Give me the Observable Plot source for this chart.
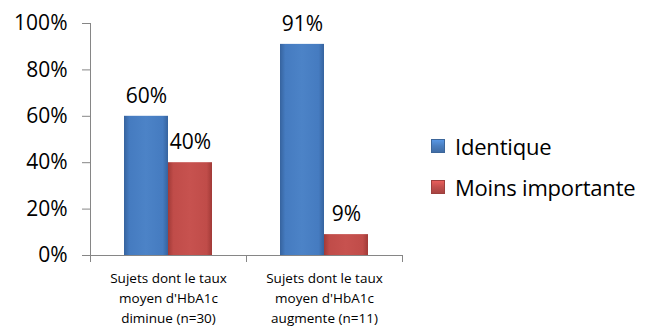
<!DOCTYPE html>
<html>
<head>
<meta charset="utf-8">
<script src="https://cdn.jsdelivr.net/npm/d3@7"></script>
<script src="https://cdn.jsdelivr.net/npm/@observablehq/plot@0.6"></script>
<style>
  html, body { margin: 0; padding: 0; background: #fff; }
  #wrap { position: relative; width: 645px; height: 329px; font-family: "Open Sans", sans-serif; }
  .leg { position: absolute; left: 431px; height: 30px; display: flex; align-items: center; font-size: 22px; color: #000; white-space: nowrap; letter-spacing: -0.2px; }
  .sw { width: 14px; height: 14px; margin-right: 10px; box-sizing: border-box; }
</style>
</head>
<body>
<div id="wrap"></div>
<script>
const categories = [
  "Sujets dont le taux\nmoyen d'HbA1c\ndiminue (n=30)",
  "Sujets dont le taux\nmoyen d'HbA1c\naugmente (n=11)"
];
const series = ["Identique", "Moins importante"];
const identique = [0.60, 0.91];
const moinsImportante = [0.40, 0.09];
const yTicks = [0, 0.2, 0.4, 0.6, 0.8, 1.0];
const seriesColors = ["#4a7ebf", "#c24f4c"];

const data = [];
categories.forEach((c, i) => {
  data.push({category: c, series: series[0], value: identique[i]});
  data.push({category: c, series: series[1], value: moinsImportante[i]});
});

const pct = d3.format(".0%");
const axisGray = "#868686";

const chart = Plot.plot({
  width: 645,
  height: 329,
  marginLeft: 90,
  marginRight: 243,
  marginTop: 23,
  marginBottom: 74,
  style: {fontFamily: "Open Sans", color: "#000", background: "transparent", overflow: "visible"},
  fx: {domain: categories, axis: null, label: null, paddingInner: 0, paddingOuter: 0},
  x: {domain: series, axis: null, label: null, paddingInner: 0, paddingOuter: 0.76},
  y: {domain: [0, 1], axis: null, label: null},
  color: {domain: series, range: ["url(#gBlue)", "url(#gRed)"]},
  marks: [
    Plot.axisY({ticks: yTicks, tickFormat: pct, label: null, tickSize: 8, tickPadding: 15, fontSize: 21, stroke: axisGray, fill: "#000"}),
    Plot.frame({anchor: "left", facetAnchor: "left", stroke: axisGray}),
    Plot.barY(data, {fx: "category", x: "series", y: "value", fill: "series"}),
    Plot.ruleY([0], {stroke: axisGray}),
    Plot.frame({anchor: "left", stroke: axisGray, insetTop: 232, insetBottom: -6}),
    Plot.frame({anchor: "right", stroke: axisGray, insetTop: 232, insetBottom: -6}),
    Plot.text(data, {fx: "category", x: "series", y: "value", text: d => pct(d.value), dy: -20, fontSize: 21, fill: "#000"}),
    Plot.text(categories, {fx: d => d, text: d => d, frameAnchor: "bottom", lineAnchor: "top", dy: 14, fontSize: 13.5, lineHeight: 1.45, fill: "#000"})
  ]
});

d3.select(chart).insert("defs", ":first-child").html(`
  <linearGradient id="gBlue" x1="0" x2="1" y1="0" y2="0">
    <stop offset="0" stop-color="#36639e"/>
    <stop offset="0.12" stop-color="#457bc0"/>
    <stop offset="0.5" stop-color="#4c83c7"/>
    <stop offset="0.88" stop-color="#457bc0"/>
    <stop offset="1" stop-color="#36639e"/>
  </linearGradient>
  <linearGradient id="gRed" x1="0" x2="1" y1="0" y2="0">
    <stop offset="0" stop-color="#a13a37"/>
    <stop offset="0.12" stop-color="#c04c49"/>
    <stop offset="0.5" stop-color="#c7524f"/>
    <stop offset="0.88" stop-color="#c04c49"/>
    <stop offset="1" stop-color="#a13a37"/>
  </linearGradient>`);

const wrap = document.getElementById("wrap");
wrap.appendChild(chart);

const legendTops = [131, 172];
series.forEach((s, i) => {
  const item = document.createElement("div");
  item.className = "leg";
  item.style.top = legendTops[i] + "px";
  const sw = document.createElement("div");
  sw.className = "sw";
  sw.style.background = `linear-gradient(to bottom, ${d3.color(seriesColors[i]).brighter(0.5)}, ${seriesColors[i]} 50%, ${d3.color(seriesColors[i]).darker(0.4)})`;
  sw.style.border = `1px solid ${d3.color(seriesColors[i]).darker(0.6)}`;
  item.appendChild(sw);
  const t = document.createElement("span");
  t.textContent = s;
  item.appendChild(t);
  wrap.appendChild(item);
});
</script>
</body>
</html>
